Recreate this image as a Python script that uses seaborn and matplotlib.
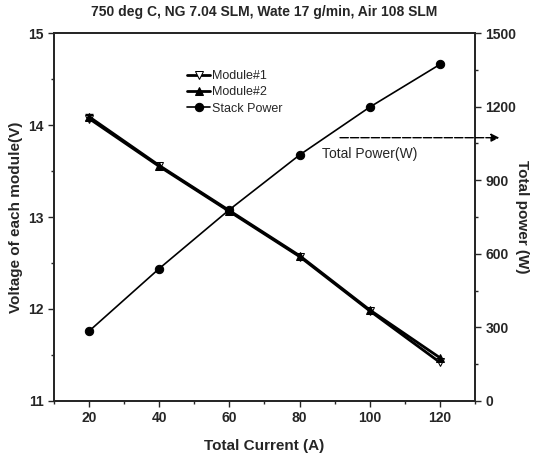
import numpy as np
import pandas as pd
import matplotlib
matplotlib.use("Agg")
import matplotlib.pyplot as plt
import seaborn as sns
from matplotlib.ticker import MultipleLocator

current = [20, 40, 60, 80, 100, 120]
module1 = [14.07, 13.55, 13.06, 12.57, 11.98, 11.42]
module2 = [14.09, 13.56, 13.07, 12.58, 11.99, 11.47]
stack_power = [285, 540, 780, 1003, 1198, 1372]

sns.set_style("ticks")
plt.rcParams["font.family"] = ["Liberation Sans", "DejaVu Sans"]
plt.rcParams["xtick.direction"] = "out"
plt.rcParams["ytick.direction"] = "out"

df = pd.DataFrame({"current": current, "m1": module1, "m2": module2, "power": stack_power})

fig = plt.figure(figsize=(5.37, 4.59), dpi=100)
ax = fig.add_axes([0.1006, 0.1264, 0.7839, 0.8016])
ax2 = ax.twinx()

sns.lineplot(data=df, x="current", y="m1", ax=ax, color="black", lw=2,
             marker="v", markersize=6, markerfacecolor="white",
             markeredgecolor="black", label="Module#1", legend=False)
sns.lineplot(data=df, x="current", y="m2", ax=ax, color="black", lw=2,
             marker="^", markersize=6, markeredgecolor="black",
             label="Module#2", legend=False)
ax.errorbar(current[:1], module2[:1], yerr=0.03, fmt="none", ecolor="black",
            capsize=3, lw=1)
sns.lineplot(data=df, x="current", y="power", ax=ax2, color="black", lw=1.2,
             marker="o", markersize=6, markeredgecolor="black",
             label="Stack Power", legend=False)

ax.set_xlim(10, 130)
ax.set_ylim(11, 15)
ax2.set_ylim(0, 1500)
ax.set_xticks([20, 40, 60, 80, 100, 120])
ax.xaxis.set_minor_locator(MultipleLocator(10))
ax.set_yticks([11, 12, 13, 14, 15])
ax.yaxis.set_minor_locator(MultipleLocator(0.5))
ax2.set_yticks([0, 300, 600, 900, 1200, 1500])
ax2.yaxis.set_minor_locator(MultipleLocator(150))

for a in (ax, ax2):
    a.tick_params(which="major", length=4, width=1, labelsize=10)
    a.tick_params(which="minor", length=2.5, width=1)
    for s in a.spines.values():
        s.set_linewidth(1.3)
        s.set_visible(True)
for lab in ax.get_xticklabels() + ax.get_yticklabels() + ax2.get_yticklabels():
    lab.set_fontweight("bold")

ax.set_xlabel("Total Current (A)", fontsize=11, fontweight="bold", labelpad=10)
ax.set_ylabel("Voltage of each module(V)", fontsize=11, fontweight="bold")
ax2.set_ylabel("Total power (W)", fontsize=11, fontweight="bold",
               rotation=270, labelpad=9)
ax.set_title("750 deg C, NG 7.04 SLM, Wate 17 g/min, Air 108 SLM",
             fontsize=10, fontweight="bold", pad=12)

h1, l1 = ax.get_legend_handles_labels()
h2, l2 = ax2.get_legend_handles_labels()
ax.legend(h1 + h2, l1 + l2, loc="upper left", bbox_to_anchor=(0.29, 0.93),
          frameon=False, fontsize=9, handlelength=1.8, handletextpad=0.2,
          labelspacing=0.35)

ax2.annotate("", xy=(0.935, 0.70), xytext=(0.628, 0.70), xycoords="figure fraction",
             arrowprops=dict(arrowstyle="-|>", color="black", lw=1,
                             linestyle=(0, (6, 1.5)), mutation_scale=12))
fig.text(0.60, 0.655, "Total Power(W)", fontsize=10)

fig.savefig("out.png", dpi=100)
